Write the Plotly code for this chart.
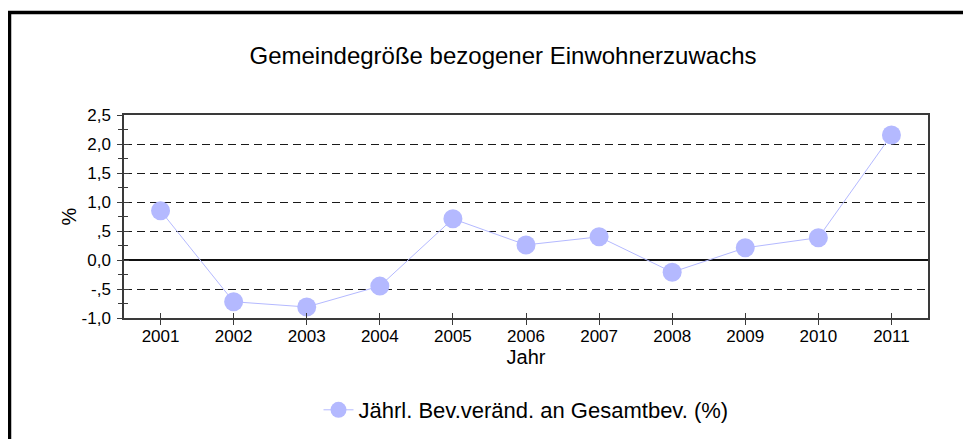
import plotly.graph_objects as go

years = ["2001", "2002", "2003", "2004", "2005", "2006", "2007", "2008", "2009", "2010", "2011"]
values = [0.85, -0.72, -0.81, -0.45, 0.71, 0.26, 0.40, -0.21, 0.21, 0.385, 2.155]
y_tickvals = [-1.0, -0.5, 0.0, 0.5, 1.0, 1.5, 2.0, 2.5]
y_ticktext = ["-1,0", "-,5", "0,0", ",5", "1,0", "1,5", "2,0", "2,5"]
series_name = "Jährl. Bev.veränd. an Gesamtbev. (%)"
title_text = "Gemeindegröße bezogener Einwohnerzuwachs"

FONT = "Liberation Sans, Arial, sans-serif"
COL = "#b4b9ff"
AX = "#3a3a3a"

fig = go.Figure()
fig.add_trace(go.Scatter(
    x=years, y=values, mode="lines+markers", name=series_name,
    line=dict(color=COL, width=1),
    marker=dict(color=COL, size=19),
))
# invisible trace for overlay axes (inner half of crossing ticks)
fig.add_trace(go.Scatter(
    x=years, y=values, mode="markers", showlegend=False, hoverinfo="skip",
    marker=dict(opacity=0), xaxis="x2", yaxis="y2",
))

W, H = 971, 439
OFF = 8  # page body margin
L, T = 124 - OFF, 115 - OFF
PW, PH = 804, 203
R, B = W - L - PW, H - T - PH

fig.update_layout(
    width=W, height=H,
    margin=dict(l=L, r=R, t=T, b=B, pad=0),
    paper_bgcolor="white", plot_bgcolor="white",
    font=dict(family=FONT, color="black", size=17),
    title=dict(text=title_text, x=(503 - OFF) / W, xanchor="center",
               y=1 - (56 - OFF) / H, yanchor="middle", yref="container",
               font=dict(size=24, family=FONT, color="black")),
    showlegend=True,
    legend=dict(orientation="h", x=0.5, xanchor="center",
                y=(318 - 410) / PH, yanchor="middle",
                font=dict(size=22, family=FONT), bgcolor="rgba(0,0,0,0)"),
    xaxis=dict(
        type="category", categoryorder="array", categoryarray=years,
        range=[-0.5, len(years) - 0.5],
        showline=True, linecolor=AX, linewidth=1.5, mirror=True,
        ticks="outside", ticklen=5, tickcolor=AX, tickwidth=1,
        showgrid=False, zeroline=False,
        tickfont=dict(size=17, family=FONT),
        ticklabelstandoff=-3,
        title=dict(text="Jahr", font=dict(size=20, family=FONT), standoff=0),
    ),
    yaxis=dict(
        range=[-1.0, 2.5], tickmode="array", tickvals=y_tickvals, ticktext=y_ticktext,
        showline=True, linecolor=AX, linewidth=1.5, mirror=True,
        ticks="outside", ticklen=5, tickcolor=AX, tickwidth=1,
        minor=dict(tickmode="linear", tick0=-1.0, dtick=0.25, ticks="outside",
                   ticklen=4, tickcolor=AX, tickwidth=1, showgrid=False),
        showgrid=True, gridcolor="#1a1a1a", gridwidth=1, griddash="8px,5px",
        zeroline=True, zerolinecolor="#111111", zerolinewidth=1.5,
        tickfont=dict(size=17, family=FONT),
        ticklabelstandoff=3,
        title=dict(text="%", font=dict(size=20, family=FONT), standoff=0),
    ),
    xaxis2=dict(
        type="category", categoryorder="array", categoryarray=years,
        range=[-0.5, len(years) - 0.5], overlaying="x",
        showline=False, ticks="inside", ticklen=5, tickcolor=AX, tickwidth=1,
        showticklabels=False, showgrid=False, zeroline=False,
    ),
    yaxis2=dict(
        range=[-1.0, 2.5], overlaying="y", tickmode="array", tickvals=y_tickvals,
        showline=False, ticks="inside", ticklen=5, tickcolor=AX, tickwidth=1,
        minor=dict(tickmode="linear", tick0=-1.0, dtick=0.25, ticks="inside",
                   ticklen=4, tickcolor=AX, tickwidth=1, showgrid=False),
        showticklabels=False, showgrid=False, zeroline=False,
    ),
)

fig.add_shape(type="rect", xref="paper", yref="paper",
              x0=(9.5 - OFF - L) / PW, x1=(W + 20 - L) / PW,
              y0=(T + PH - (H + 20)) / PH, y1=(T + PH - (12.5 - OFF)) / PH,
              line=dict(color="black", width=3.5), fillcolor="rgba(0,0,0,0)",
              layer="above")

fig.write_html("out.html")
